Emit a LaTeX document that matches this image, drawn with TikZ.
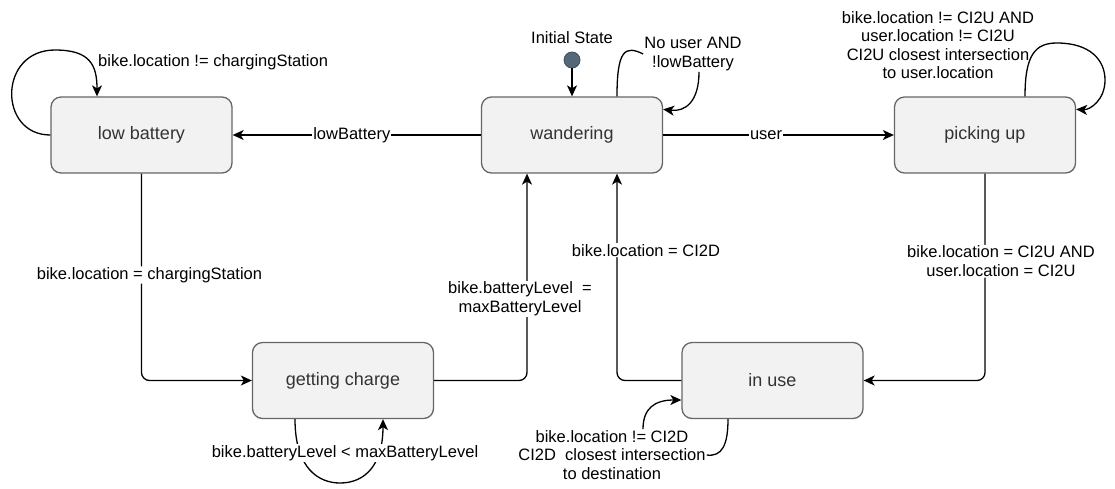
\documentclass[tikz,border=0pt]{standalone}
\usepackage{fontspec}
\setmainfont{Liberation Sans}
\usetikzlibrary{arrows.meta,calc}
\definecolor{boxfill}{HTML}{F2F2F2}
\definecolor{boxline}{HTML}{666666}
\definecolor{boxtext}{HTML}{333333}
\definecolor{initfill}{HTML}{536878}
\definecolor{initline}{HTML}{3F4F5C}
\tikzset{
  stbox/.style={draw=boxline, fill=boxfill, line width=1.3pt, rounded corners=10pt,
    minimum width=181pt, minimum height=76pt, inner sep=0pt, text=boxtext,
    font=\fontsize{18}{21}\selectfont},
  edge/.style={draw=black, line width=1.3pt, -{Stealth[length=11pt,width=10pt,inset=3pt]}},
  plain/.style={line width=1.3pt, draw=black},
  lbl/.style={fill=white, inner sep=1pt, align=center, text=black,
    font=\fontsize{16.5}{18.6}\selectfont},
  txt/.style={inner sep=1pt, align=center, text=black,
    font=\fontsize{16.5}{18.6}\selectfont},
}
\begin{document}
\begin{tikzpicture}[x=1pt,y=-1pt]
\useasboundingbox (0,0) rectangle (1115,488);

% states
\node[stbox] (lb) at (141.5,135) {low battery};
\node[stbox] (wander) at (572,135) {wandering};
\node[stbox] (pick) at (985,135) {picking up};
\node[stbox] (gc) at (343,380.5) {getting charge};
\node[stbox] (use) at (772.5,380.5) {in use};

% initial state
\node[circle, fill=initfill, draw=initline, line width=0.8pt, minimum size=16pt, inner sep=0pt] (init) at (572,60) {};
\node[txt] (initlbl) at (572,38) {Initial State};
\draw[edge] (init) -- (wander.north);

% straight transitions
\draw[edge] (wander.west) -- node[lbl, pos=0.52] {lowBattery} (lb.east);
\draw[edge] (wander.east) -- node[lbl, pos=0.446] {user} (pick.west);

% low battery -> getting charge
\draw[edge, rounded corners=8pt] (lb.south) |- node[lbl, pos=0.245, xshift=8pt] {bike.location = chargingStation} (gc.west);

% getting charge -> wandering
\coordinate (wsl) at ($(wander.south)+(-45,0)$);
\draw[edge, rounded corners=8pt] (gc.east) -| node[lbl, pos=0.697, xshift=-7pt] {bike.batteryLevel\ \ =\\maxBatteryLevel} (wsl);

% in use -> wandering
\coordinate (wsr) at ($(wander.south)+(45,0)$);
\draw[edge, rounded corners=8pt] (use.west) -| node[lbl, pos=0.815, xshift=29pt] {bike.location = CI2D} (wsr);

% picking up -> in use
\draw[edge, rounded corners=8pt] (pick.south) |- node[lbl, pos=0.2115, xshift=16pt] {bike.location = CI2U AND\\user.location = CI2U} (use.east);

% low battery self loop
\coordinate (lbtop) at ($(lb.north)+(-44.5,0)$);
\draw[edge] (lb.west) .. controls (-2,135) and (-2,50) .. (55,50) .. controls (90,50) and (97,65) .. (lbtop);
\node[txt, anchor=west] (lbloop) at (97,62) {bike.location != chargingStation};

% wandering self loop
\node[lbl] (nl) at (693,54) {No user AND\\!lowBattery};
\coordinate (wtop) at ($(wander.north)+(45,0)$);
\coordinate (weast) at ($(wander.north east)+(0,13)$);
\draw[plain] (wtop) .. controls (617,50) and (625,45) .. (nl.west);
\draw[edge] ($(nl.south)+(6,0)$) .. controls (699,102) and (685,112) .. (weast);

% picking up self loop
\node[txt] (pl) at (938,45) {bike.location != CI2U AND\\user.location != CI2U\\CI2U closest intersection\\to user.location};
\coordinate (ptop) at ($(pick.north)+(40,0)$);
\coordinate (peast) at ($(pick.north east)+(0,13)$);
\draw[edge] (ptop) .. controls (1025,55) and (1035,43) .. (1057,43) .. controls (1090,43) and (1105,60) .. (1105,80) .. controls (1105,100) and (1090,110) .. (peast);

% getting charge self loop
\coordinate (gcl) at ($(gc.south)+(-48,0)$);
\coordinate (gcr) at ($(gc.south)+(40,0)$);
\draw[edge] (gcl) .. controls (295,470) and (320,483) .. (340,483) .. controls (365,483) and (383,465) .. (gcr);
\node[lbl] (gcloop) at (345,453) {bike.batteryLevel < maxBatteryLevel};

% in use self loop
\node[lbl] (ul) at (612,455) {bike.location != CI2D\\CI2D\ \ closest intersection\\to destination};
\coordinate (ubot) at ($(use.south)+(-44.5,0)$);
\coordinate (uwest) at ($(use.west)+(0,19.5)$);
\draw[plain] (ubot) .. controls (728,445) and (722,457) .. (ul.east);
\draw[edge] ($(ul.north)+(31,0)$) .. controls (643,408) and (655,400) .. (uwest);
\end{tikzpicture}
\end{document}
